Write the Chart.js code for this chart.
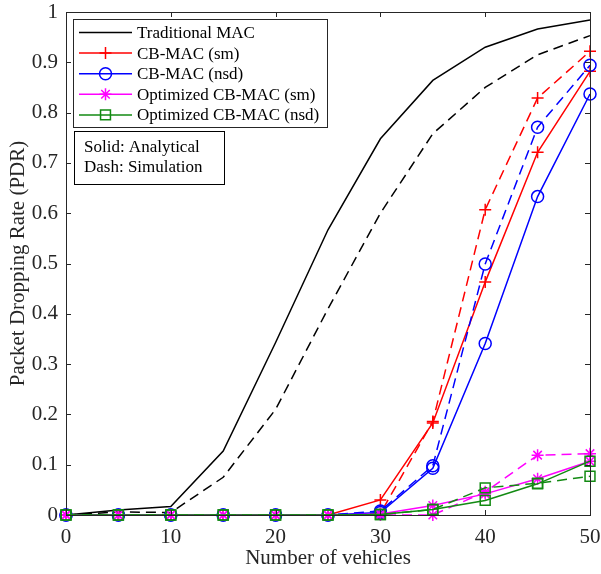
<!DOCTYPE html>
<html>
<head>
<meta charset="utf-8">
<script src="https://cdn.jsdelivr.net/npm/chart.js@4.4.0/dist/chart.umd.min.js"></script>
<style>
body { margin: 0; background: #fff; }
</style>
</head>
<body>
<canvas id="pdrchart" width="601" height="574"></canvas>
<script>
// number of vehicles on the x axis
const vehicles = [0, 5, 10, 15, 20, 25, 30, 35, 40, 45, 50];

// solid = analytical, dashed = simulation
const tradAna  = [0, 0.010, 0.017, 0.127, 0.343, 0.567, 0.748, 0.864, 0.930, 0.966, 0.984];
const tradSim  = [0, 0.006, 0.005, 0.075, 0.210, 0.410, 0.600, 0.758, 0.850, 0.915, 0.953];
const cbSmAna  = [0, 0, 0, 0, 0, 0, 0.030, 0.183, 0.463, 0.721, 0.882];
const cbSmSim  = [0, 0, 0, 0, 0, 0, 0.003, 0.186, 0.607, 0.829, 0.922];
const cbNsdAna = [0, 0, 0, 0, 0, 0, 0.005, 0.093, 0.341, 0.633, 0.837];
const cbNsdSim = [0, 0, 0, 0, 0, 0, 0.008, 0.098, 0.499, 0.771, 0.894];
const optSmAna  = [0, 0, 0, 0, 0, 0, 0.002, 0.019, 0.042, 0.072, 0.107];
const optSmSim  = [0, 0, 0, 0, 0, 0, 0, 0, 0.046, 0.119, 0.122];
const optNsdAna = [0, 0, 0, 0, 0, 0, 0.001, 0.011, 0.029, 0.062, 0.107];
const optNsdSim = [0, 0, 0, 0, 0, 0, 0.001, 0.011, 0.054, 0.063, 0.077];

const legendLabels = ['Traditional MAC', 'CB-MAC (sm)', 'CB-MAC (nsd)', 'Optimized CB-MAC (sm)', 'Optimized CB-MAC (nsd)'];
const noteLines = ['Solid: Analytical', 'Dash: Simulation'];

const colors  = ['#000000', '#ff0000', '#0000ff', '#ff00ff', '#128a12'];
const markers = [false, 'cross', 'circle', 'star', 'rect'];
const radii   = [0, 6, 6, 6, 7];

const axisColor = '#262626';
const serif = '"Liberation Serif", "Times New Roman", serif';

function makeSet(idx, values, dashed) {
    return {
        label: legendLabels[idx] + (dashed ? ' sim' : ''),
        data: vehicles.map((v, i) => ({ x: v, y: values[i] })),
        borderColor: colors[idx],
        backgroundColor: 'rgba(0,0,0,0)',
        borderWidth: 1.5,
        borderDash: dashed ? [10, 6] : [],
        pointStyle: markers[idx] || 'circle',
        pointRadius: markers[idx] ? radii[idx] : 0,
        pointBorderColor: colors[idx],
        pointBackgroundColor: 'rgba(0,0,0,0)',
        pointBorderWidth: 1.5,
        tension: 0,
        clip: false,
        order: 10 - idx * 2 - (dashed ? 1 : 0)
    };
}

const allSets = [
    makeSet(0, tradAna, false), makeSet(0, tradSim, true),
    makeSet(1, cbSmAna, false), makeSet(1, cbSmSim, true),
    makeSet(2, cbNsdAna, false), makeSet(2, cbNsdSim, true),
    makeSet(3, optSmAna, false), makeSet(3, optSmSim, true),
    makeSet(4, optNsdAna, false), makeSet(4, optNsdSim, true)
];

function drawMarker(ctx, style, x, y, r, color) {
    if (!style) return;
    ctx.save();
    ctx.strokeStyle = color;
    ctx.fillStyle = 'rgba(0,0,0,0)';
    ctx.lineWidth = 1.5;
    ctx.setLineDash([]);
    Chart.helpers.drawPoint(ctx, { pointStyle: style, radius: r, rotation: 0, borderWidth: 1.5 }, x, y);
    ctx.restore();
}

// box round the plot, inward ticks and the two legend boxes
const frameAndLegend = {
    id: 'frameAndLegend',
    afterDraw(chart) {
        const ctx = chart.ctx;
        const a = chart.chartArea;
        const xs = chart.scales.x, ys = chart.scales.y;
        ctx.save();
        ctx.strokeStyle = axisColor;
        ctx.lineWidth = 1;
        ctx.setLineDash([]);
        ctx.strokeRect(Math.round(a.left) + 0.5, Math.round(a.top) + 0.5,
            Math.round(a.right - a.left), Math.round(a.bottom - a.top));
        ctx.beginPath();
        xs.ticks.forEach(t => {
            const px = Math.round(xs.getPixelForValue(t.value)) + 0.5;
            ctx.moveTo(px, a.bottom); ctx.lineTo(px, a.bottom - 5);
            ctx.moveTo(px, a.top); ctx.lineTo(px, a.top + 5);
        });
        ys.ticks.forEach(t => {
            const py = Math.round(ys.getPixelForValue(t.value)) + 0.5;
            ctx.moveTo(a.left, py); ctx.lineTo(a.left + 5, py);
            ctx.moveTo(a.right, py); ctx.lineTo(a.right - 5, py);
        });
        ctx.stroke();

        // series legend
        const lx = 73.5, ly = 19.5, lw = 254, lh = 108;
        ctx.fillStyle = '#fff';
        ctx.fillRect(lx, ly, lw, lh);
        ctx.strokeStyle = axisColor;
        ctx.strokeRect(lx, ly, lw, lh);
        ctx.font = '17px ' + serif;
        ctx.textBaseline = 'middle';
        legendLabels.forEach((name, i) => {
            const y = 32.5 + i * 20.6;
            ctx.strokeStyle = colors[i];
            ctx.lineWidth = 1.5;
            ctx.beginPath();
            ctx.moveTo(79, y); ctx.lineTo(132, y);
            ctx.stroke();
            drawMarker(ctx, markers[i], 105.5, y, radii[i], colors[i]);
            ctx.fillStyle = '#000';
            ctx.fillText(name, 137, y + 1);
        });

        // line style note
        ctx.fillStyle = '#fff';
        ctx.fillRect(74.5, 131.5, 150, 53);
        ctx.strokeStyle = '#000';
        ctx.lineWidth = 1;
        ctx.strokeRect(74.5, 131.5, 150, 53);
        ctx.fillStyle = '#000';
        noteLines.forEach((txt, i) => ctx.fillText(txt, 84, 148 + i * 20));
        ctx.restore();
    }
};

const config = {
    type: 'line',
    data: { datasets: allSets },
    options: {
        responsive: false,
        animation: false,
        layout: { padding: { top: 12, right: 11, left: 0, bottom: 0 } },
        plugins: { legend: { display: false }, tooltip: { enabled: false } },
        scales: {
            x: {
                type: 'linear', min: 0, max: 50,
                afterFit: s => { s.height = 59; s.paddingLeft = 0; s.paddingRight = 0; },
                grid: { drawOnChartArea: false, drawTicks: false },
                border: { display: false },
                ticks: { stepSize: 10, padding: 10, color: axisColor, font: { family: serif, size: 21 }, maxRotation: 0 },
                title: { display: true, text: 'Number of vehicles', color: axisColor,
                    font: { family: serif, size: 21 }, padding: { top: 0, bottom: 3 } }
            },
            y: {
                type: 'linear', min: 0, max: 1,
                afterFit: s => { s.width = 66; s.paddingTop = 0; s.paddingBottom = 0; },
                grid: { drawOnChartArea: false, drawTicks: false },
                border: { display: false },
                ticks: { stepSize: 0.1, padding: 8, color: axisColor, font: { family: serif, size: 21 },
                    callback: v => String(Math.round(v * 10) / 10) },
                title: { display: true, text: 'Packet Dropping Rate (PDR)', color: axisColor,
                    font: { family: serif, size: 21 }, padding: { top: 6, bottom: 0 } }
            }
        }
    },
    plugins: [frameAndLegend]
};

const pdrChart = new Chart(document.getElementById('pdrchart'), config);
</script>
</body>
</html>
